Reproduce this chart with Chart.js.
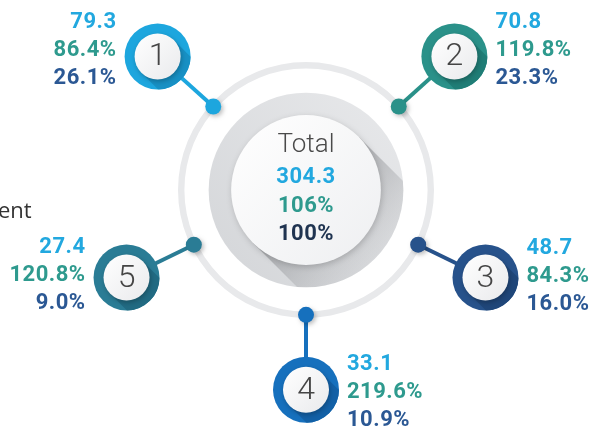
<!DOCTYPE html>
<html>
<head>
<meta charset="utf-8">
<script src="https://cdn.jsdelivr.net/npm/chart.js@4"></script>
<style>
  body { margin: 0; background: #fff; }
  #wrap { width: 595px; height: 428px; position: relative; }
</style>
</head>
<body>
<div id="wrap"><canvas id="hubChart"></canvas></div>
<script>
// data
const nodeIds = ["1", "2", "3", "4", "5"];
const nodeValues = [79.3, 70.8, 48.7, 33.1, 27.4];
const nodeGrowth = [86.4, 119.8, 84.3, 219.6, 120.8];
const nodeShares = [26.1, 23.3, 16.0, 10.9, 9.0];
const totalLabel = "Total";
const totalValue = [304.3];
const totalGrowth = [106];
const totalShare = [100];
const sideText = "ent";

// layout / styling (not data)
const nodeAngles = [222, 318, 26, 90, 154];
const nodeSide = ["left", "right", "right", "right", "left"];
const nodeLineDy = [-34, -34, -29, -25, -30];
const ringColors = ["#1da6de", "#2a9189", "#27528b", "#1670bd", "#2a7c95"];
const ringShade = ["#1790c4", "#1f7d76", "#1f4679", "#1260a6", "#216a82"];
const lineColors = ["#22a8df", "#2e9a8e", "#2b5894"];

function fmt1(v) { return v.toFixed(1); }

const hubPlugin = {
  id: "hub",
  afterDatasetsDraw(chart) {
    const ctx = chart.ctx;
    const arc = chart.getDatasetMeta(0).data[0];
    const cx = arc.x, cy = arc.y;
    const rMid = (arc.outerRadius + arc.innerRadius) / 2;
    const rGrey = rMid * 0.78;
    const rWhite = rMid * 0.6;

    ctx.save();
    // grey disc
    let g = ctx.createLinearGradient(cx + rGrey, cy - rGrey, cx - rGrey, cy + rGrey);
    g.addColorStop(0, "#e8e9eb");
    g.addColorStop(1, "#d3d5d8");
    ctx.beginPath();
    ctx.arc(cx, cy, rGrey, 0, Math.PI * 2);
    ctx.fillStyle = g;
    ctx.fill();

    // long shadow of the white disc, clipped to the grey disc
    ctx.save();
    ctx.beginPath();
    ctx.arc(cx, cy, rGrey, 0, Math.PI * 2);
    ctx.clip();
    const s = Math.SQRT1_2;
    const L = rGrey * 2;
    ctx.beginPath();
    ctx.moveTo(cx + rWhite * s, cy - rWhite * s);
    ctx.lineTo(cx + rWhite * s + L * s, cy - rWhite * s + L * s);
    ctx.lineTo(cx - rWhite * s + L * s, cy + rWhite * s + L * s);
    ctx.lineTo(cx - rWhite * s, cy + rWhite * s);
    ctx.closePath();
    g = ctx.createLinearGradient(cx, cy, cx + rGrey * s, cy + rGrey * s);
    g.addColorStop(0, "rgba(110,112,116,0.5)");
    g.addColorStop(1, "rgba(150,152,156,0.1)");
    ctx.fillStyle = g;
    ctx.fill();
    ctx.restore();

    // white disc
    ctx.save();
    ctx.shadowColor = "rgba(0,0,0,0.18)";
    ctx.shadowBlur = 6;
    ctx.shadowOffsetX = 1;
    ctx.shadowOffsetY = 2;
    g = ctx.createLinearGradient(cx - rWhite, cy - rWhite, cx + rWhite, cy + rWhite);
    g.addColorStop(0, "#ffffff");
    g.addColorStop(1, "#eeeff1");
    ctx.beginPath();
    ctx.arc(cx, cy, rWhite, 0, Math.PI * 2);
    ctx.fillStyle = g;
    ctx.fill();
    ctx.restore();

    // centre text
    ctx.textAlign = "center";
    ctx.textBaseline = "middle";
    ctx.fillStyle = "#4a4a4a";
    ctx.font = "300 26px Roboto";
    ctx.fillText(totalLabel, cx, cy - 45);
    ctx.font = "bold 22px Roboto";
    ctx.letterSpacing = "0.5px";
    ctx.fillStyle = lineColors[0];
    ctx.fillText(fmt1(totalValue[0]), cx, cy - 13);
    ctx.fillStyle = lineColors[1];
    ctx.fillText(totalGrowth[0] + "%", cx, cy + 16);
    ctx.fillStyle = "#1f3350";
    ctx.fillText(totalShare[0] + "%", cx, cy + 44);
    ctx.letterSpacing = "0px";

    // nodes
    nodeIds.forEach((id, i) => {
      const a = nodeAngles[i] * Math.PI / 180;
      const ux = Math.cos(a), uy = Math.sin(a);
      const dx = cx + rMid * ux, dy = cy + rMid * uy;
      const nx = cx + rMid * 1.6 * ux, ny = cy + rMid * 1.6 * uy;
      const col = ringColors[i];

      ctx.strokeStyle = col;
      ctx.lineWidth = 4;
      ctx.beginPath();
      ctx.moveTo(dx, dy);
      ctx.lineTo(nx, ny);
      ctx.stroke();

      ctx.save();
      ctx.shadowColor = "rgba(0,0,0,0.25)";
      ctx.shadowBlur = 4;
      ctx.shadowOffsetX = 2;
      ctx.shadowOffsetY = 2;
      ctx.beginPath();
      ctx.arc(dx, dy, 8, 0, Math.PI * 2);
      ctx.fillStyle = col;
      ctx.fill();
      ctx.restore();

      // coloured ring with darker lower-right band
      const ro = 33, ri = 23;
      ctx.beginPath();
      ctx.arc(nx, ny, ro, 0, Math.PI * 2);
      ctx.fillStyle = col;
      ctx.fill();
      ctx.save();
      ctx.beginPath();
      ctx.arc(nx, ny, ro, 0, Math.PI * 2);
      ctx.clip();
      ctx.beginPath();
      ctx.moveTo(nx + ri * s, ny - ri * s);
      ctx.lineTo(nx + ri * s + 40, ny - ri * s + 40);
      ctx.lineTo(nx - ri * s + 40, ny + ri * s + 40);
      ctx.lineTo(nx - ri * s, ny + ri * s);
      ctx.closePath();
      ctx.fillStyle = ringShade[i];
      ctx.fill();
      ctx.restore();

      ctx.save();
      ctx.shadowColor = "rgba(0,0,0,0.25)";
      ctx.shadowBlur = 5;
      ctx.shadowOffsetX = 1;
      ctx.shadowOffsetY = 2;
      g = ctx.createLinearGradient(nx - ri, ny - ri, nx + ri, ny + ri);
      g.addColorStop(0, "#ffffff");
      g.addColorStop(1, "#e9eaec");
      ctx.beginPath();
      ctx.arc(nx, ny, ri, 0, Math.PI * 2);
      ctx.fillStyle = g;
      ctx.fill();
      ctx.restore();

      ctx.textAlign = "center";
      ctx.textBaseline = "middle";
      ctx.fillStyle = "#454545";
      ctx.font = "300 32px Roboto";
      ctx.fillText(id, nx, ny + 1);

      // labels
      const left = nodeSide[i] === "left";
      const tx = left ? nx - 41 : nx + 41;
      ctx.textAlign = left ? "right" : "left";
      ctx.font = "bold 22px Roboto";
      ctx.letterSpacing = "0.5px";
      const lines = [fmt1(nodeValues[i]), fmt1(nodeGrowth[i]) + "%", fmt1(nodeShares[i]) + "%"];
      lines.forEach((t, k) => {
        ctx.fillStyle = lineColors[k];
        ctx.fillText(t, tx, ny + nodeLineDy[i] + k * 28);
      });
      ctx.letterSpacing = "0px";
    });

    // clipped side caption
    ctx.textAlign = "left";
    ctx.textBaseline = "alphabetic";
    ctx.fillStyle = "#333333";
    ctx.font = "22px 'Open Sans'";
    ctx.fillText(sideText, -2, 218);
    ctx.restore();
  }
};

new Chart(document.getElementById("hubChart"), {
  type: "doughnut",
  data: {
    labels: [totalLabel],
    datasets: [{
      data: totalShare,
      backgroundColor: "#e8e9eb",
      borderWidth: 0,
      hoverOffset: 0
    }]
  },
  options: {
    responsive: true,
    maintainAspectRatio: false,
    animation: false,
    events: [],
    cutout: "95%",
    layout: { padding: { left: 60, right: 43, top: 62, bottom: 110 } },
    plugins: { legend: { display: false }, tooltip: { enabled: false } }
  },
  plugins: [hubPlugin]
});
</script>
</body>
</html>
